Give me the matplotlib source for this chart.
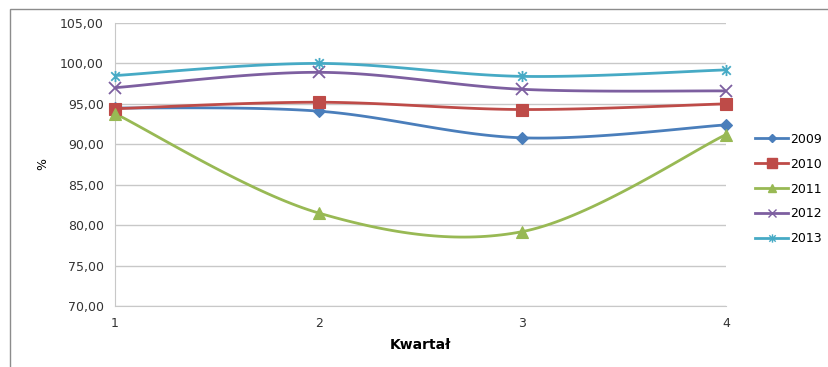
import numpy as np
import matplotlib.pyplot as plt
from matplotlib.path import Path
from matplotlib.patches import Rectangle
from matplotlib.ticker import FuncFormatter

quarters = [1, 2, 3, 4]
years = ["2009", "2010", "2011", "2012", "2013"]
v2009 = [94.5, 94.1, 90.8, 92.4]
v2010 = [94.4, 95.2, 94.3, 95.0]
v2011 = [93.8, 81.5, 79.2, 91.2]
v2012 = [97.0, 98.9, 96.8, 96.6]
v2013 = [98.5, 100.0, 98.4, 99.2]

colors = ["#4A7EBB", "#BE4B48", "#98B954", "#7D5FA0", "#46AAC5"]

# star marker: an "x" with a vertical stroke through it
star = Path([(-1, -1), (1, 1), (-1, 1), (1, -1), (0, -1.3), (0, 1.3)],
            [Path.MOVETO, Path.LINETO, Path.MOVETO, Path.LINETO, Path.MOVETO, Path.LINETO])
markers = ["D", "s", "^", "x", star]
msizes = [6, 9, 8, 8, 8]


def smooth(xs, ys, n=40):
    """Bezier smoothing like a spreadsheet's smoothed line."""
    pts = np.column_stack([xs, ys]).astype(float)
    ext = np.vstack([pts[0], pts, pts[-1]])
    out = []
    t = np.linspace(0, 1, n)[:, None]
    for i in range(len(pts) - 1):
        p0, p1, p2, p3 = ext[i], ext[i + 1], ext[i + 2], ext[i + 3]
        c1 = p1 + (p2 - p0) / 6
        c2 = p2 - (p3 - p1) / 6
        seg = ((1 - t) ** 3) * p1 + 3 * ((1 - t) ** 2) * t * c1 + 3 * (1 - t) * t ** 2 * c2 + t ** 3 * p2
        out.append(seg if i == 0 else seg[1:])
    out = np.vstack(out)
    return out[:, 0], out[:, 1]


fig = plt.figure(figsize=(8.29, 3.67), dpi=100)
fig.patches.append(Rectangle((10 / 829, -0.1), 1.0, 0.1 + 1 - 9 / 367, transform=fig.transFigure,
                             fill=False, edgecolor="#8c8c8c", linewidth=1.0))
ax = fig.add_axes([115 / 829, 1 - 306 / 367, (726 - 115) / 829, (306 - 23) / 367])

series = [v2009, v2010, v2011, v2012, v2013]
handles = []
for vals, name, c, m, ms in zip(series, years, colors, markers, msizes):
    sx, sy = smooth(quarters, vals)
    ax.plot(sx, sy, color=c, linewidth=2.0, zorder=3)
    mfc = c if m not in ("x", star) else "none"
    ax.plot(quarters, vals, linestyle="none", marker=m, markersize=ms, color=c,
            markerfacecolor=mfc, markeredgewidth=1.3 if m in ("x", star) else 0.8, zorder=4, clip_on=False)
    h, = ax.plot([], [], color=c, linewidth=2.0, marker=m, markersize=ms * 0.75,
                 markerfacecolor=mfc, label=name)
    handles.append(h)

ax.set_xlim(1, 4)
ax.set_ylim(70, 105)
ax.set_xticks(quarters)
ax.set_yticks(np.arange(70, 106, 5))
ax.yaxis.set_major_formatter(FuncFormatter(lambda v, p: f"{v:.2f}".replace(".", ",")))
ax.grid(axis="y", color="#c8c8c8", linewidth=1.0)
ax.set_axisbelow(True)
for s in ["top", "right"]:
    ax.spines[s].set_visible(False)
ax.spines["left"].set_color("#c8c8c8")
ax.spines["bottom"].set_color("#c8c8c8")
ax.tick_params(length=0, labelsize=9, colors="#333333", pad=8)
ax.set_ylabel("%", fontsize=9, labelpad=8)
ax.set_xlabel("Kwartał", fontsize=10, fontweight="bold", labelpad=6)

fig.legend(handles=handles, loc="center left", bbox_to_anchor=(753 / 829, 1 - 189 / 367),
           frameon=False, fontsize=9, handlelength=2.6, handletextpad=0.2, labelspacing=0.95,
           borderaxespad=0, borderpad=0.2)

fig.savefig("out.png", dpi=100)
